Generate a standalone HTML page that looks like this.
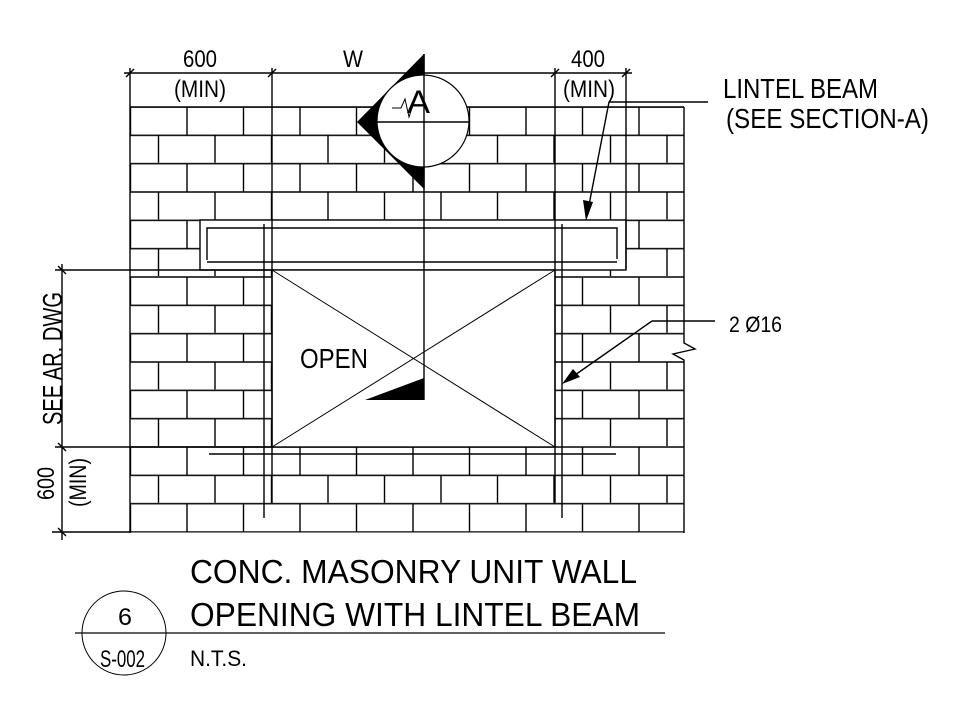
<!DOCTYPE html>
<html><head><meta charset="utf-8"><style>
html,body{margin:0;padding:0;background:#fff;}
svg{display:block;}
text{font-family:"Liberation Sans Narrow","Liberation Sans",sans-serif;fill:#000;}
</style></head><body>
<svg width="958" height="717" viewBox="0 0 958 717" xmlns="http://www.w3.org/2000/svg">
<defs>
<pattern id="brk" patternUnits="userSpaceOnUse" x="129.5" y="106" width="56.5" height="56.67">
<line x1="0" y1="1" x2="56.5" y2="1" stroke="#000" stroke-width="1.4"/>
<line x1="0" y1="29.33" x2="56.5" y2="29.33" stroke="#000" stroke-width="1.4"/>
<line x1="1" y1="1" x2="1" y2="29.33" stroke="#000" stroke-width="1.4"/>
<line x1="29" y1="29.33" x2="29" y2="56.67" stroke="#000" stroke-width="1.4"/>
</pattern>
</defs>
<rect width="958" height="717" fill="#fff"/>
<rect x="130" y="107" width="554" height="425.5" fill="url(#brk)"/>
<g stroke="#000" stroke-width="1.4" fill="none">
<line x1="130" y1="107" x2="684" y2="107"/>
<line x1="130" y1="107" x2="130" y2="533"/>
<polyline points="684,107 684,343 695,349 673,354 684,360 684,533"/>
</g>
<rect x="200" y="220" width="426" height="50" fill="#fff" stroke="#000" stroke-width="1.4"/>
<rect x="272" y="270" width="283" height="177" fill="#fff" stroke="#000" stroke-width="1.4"/>
<g stroke="#000" stroke-width="1.4" fill="none">
<polyline points="207,260 207,228 617,228 617,259"/>
<line x1="207" y1="262" x2="617" y2="262"/>
<line x1="264" y1="224" x2="264" y2="518"/>
<line x1="562" y1="224" x2="562" y2="518"/>
<line x1="209" y1="454" x2="616" y2="454"/>
<line x1="272" y1="68" x2="272" y2="503"/>
<line x1="555" y1="68" x2="555" y2="503"/>
<line x1="130" y1="68" x2="130" y2="107"/>
<line x1="626" y1="68" x2="626" y2="269"/>
<line x1="124" y1="73" x2="632" y2="73"/>
<line x1="126" y1="77" x2="134" y2="69"/>
<line x1="268" y1="77" x2="276" y2="69"/>
<line x1="551" y1="77" x2="559" y2="69"/>
<line x1="622" y1="77" x2="630" y2="69"/>
<line x1="62" y1="264" x2="62" y2="540"/>
<line x1="55" y1="270" x2="272" y2="270"/>
<line x1="55" y1="447" x2="272" y2="447"/>
<line x1="52" y1="532" x2="130" y2="532"/>
<line x1="58" y1="266" x2="66" y2="274"/>
<line x1="58" y1="443" x2="66" y2="451"/>
<line x1="58" y1="528" x2="66" y2="536"/>
<line x1="609" y1="102" x2="708" y2="102"/>
<line x1="609" y1="102" x2="589" y2="205"/>
<line x1="652" y1="321" x2="715" y2="321"/>
<line x1="652" y1="321" x2="575" y2="375"/>
<line x1="424" y1="54" x2="424" y2="400"/>
</g>
<g stroke="#000" stroke-width="1" fill="none">
<line x1="272" y1="270" x2="555" y2="447"/>
<line x1="555" y1="270" x2="272" y2="447"/>
</g>
<polygon points="586,221 583,200 593,202" fill="#000"/>
<polygon points="562,384 573,369 580,377" fill="#000"/>
<polygon points="365,400 424,378 424,400" fill="#000"/>
<polygon points="424,54 357,122 424,189" fill="#000"/>
<circle cx="423" cy="121" r="46" fill="#fff" stroke="#000" stroke-width="1.2"/>
<line x1="377" y1="122" x2="469" y2="122" stroke="#000" stroke-width="1.4"/>
<line x1="424" y1="54" x2="424" y2="189" stroke="#000" stroke-width="1.4"/>
<polyline points="392,108 401,108 405,99 409,117 414,102" fill="none" stroke="#000" stroke-width="1"/>
<text x="407" y="113" font-size="32" textLength="23" lengthAdjust="spacingAndGlyphs">A</text>
<text x="183" y="67" font-size="24" textLength="34" lengthAdjust="spacingAndGlyphs">600</text>
<text x="174" y="97" font-size="24" textLength="52" lengthAdjust="spacingAndGlyphs">(MIN)</text>
<text x="343" y="67" font-size="24" textLength="20" lengthAdjust="spacingAndGlyphs">W</text>
<text x="571" y="67" font-size="24" textLength="34" lengthAdjust="spacingAndGlyphs">400</text>
<text x="563" y="97" font-size="24" textLength="52" lengthAdjust="spacingAndGlyphs">(MIN)</text>
<text x="723" y="98" font-size="28" textLength="155" lengthAdjust="spacingAndGlyphs">LINTEL BEAM</text>
<text x="726" y="128" font-size="28" textLength="203" lengthAdjust="spacingAndGlyphs">(SEE SECTION-A)</text>
<text x="729" y="332" font-size="22" textLength="53" lengthAdjust="spacingAndGlyphs">2 Ø16</text>
<text x="300" y="368" font-size="28" textLength="68" lengthAdjust="spacingAndGlyphs">OPEN</text>
<text transform="translate(62,425) rotate(-90)" font-size="28" textLength="133" lengthAdjust="spacingAndGlyphs">SEE AR. DWG</text>
<text transform="translate(54,500) rotate(-90)" font-size="24" textLength="33" lengthAdjust="spacingAndGlyphs">600</text>
<text transform="translate(86,507) rotate(-90)" font-size="24" textLength="49" lengthAdjust="spacingAndGlyphs">(MIN)</text>
<text x="190" y="583" font-size="33" textLength="447" lengthAdjust="spacingAndGlyphs">CONC. MASONRY UNIT WALL</text>
<text x="190" y="626" font-size="33" textLength="450" lengthAdjust="spacingAndGlyphs">OPENING WITH LINTEL BEAM</text>
<line x1="75" y1="633" x2="665" y2="633" stroke="#000" stroke-width="1.2"/>
<circle cx="124" cy="633" r="42" fill="none" stroke="#000" stroke-width="1"/>
<text x="118" y="625" font-size="24" textLength="14" lengthAdjust="spacingAndGlyphs">6</text>
<text x="100" y="667" font-size="24" textLength="45" lengthAdjust="spacingAndGlyphs">S-002</text>
<text x="190" y="666" font-size="22" textLength="57" lengthAdjust="spacingAndGlyphs">N.T.S.</text>
</svg>
</body></html>
